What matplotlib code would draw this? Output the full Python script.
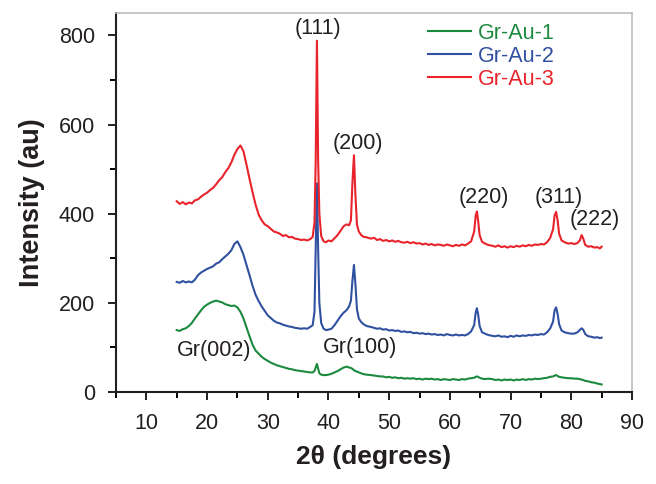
import matplotlib
matplotlib.use('Agg')
import matplotlib.pyplot as plt
from matplotlib.ticker import MultipleLocator

plt.rcParams['font.family'] = ['Liberation Sans', 'DejaVu Sans']

# 2-theta grid (degrees), shared by all three patterns
two_theta = [
    15.0, 15.5, 16.0, 16.5, 17.0, 17.5, 18.0, 18.5, 19.0, 19.5, 20.0, 20.5, 21.0, 21.5, 22.0,
    22.5, 23.0, 23.5, 24.0, 24.5, 25.0, 25.5, 26.0, 26.5, 27.0, 27.5, 28.0, 28.5, 29.0, 29.5,
    30.0, 30.5, 31.0, 31.5, 32.0, 32.5, 33.0, 33.5, 34.0, 34.5, 35.0, 35.5, 36.0, 36.5, 37.0,
    37.4, 37.7, 37.9, 38.1, 38.3, 38.5, 38.8, 39.2, 39.6, 40.0, 40.5, 41.0, 41.5, 42.0, 42.5,
    43.0, 43.4, 43.7, 43.95, 44.2, 44.45, 44.7, 45.0, 45.4, 45.8, 46.3,
    47.0, 47.5, 48.0, 48.5, 49.0, 49.5, 50.0, 50.5, 51.0, 51.5, 52.0, 52.5, 53.0, 53.5, 54.0,
    54.5, 55.0, 55.5, 56.0, 56.5, 57.0, 57.5, 58.0, 58.5, 59.0, 59.5, 60.0, 60.5, 61.0, 61.5,
    62.0, 62.5, 63.0, 63.5,
    64.0, 64.25, 64.45, 64.65, 64.9, 65.3, 65.8, 66.3,
    67.0, 67.5, 68.0, 68.5, 69.0, 69.5, 70.0, 70.5, 71.0, 71.5, 72.0, 72.5, 73.0, 73.5, 74.0,
    74.5, 75.0, 75.5, 76.0, 76.5,
    77.0, 77.25, 77.5, 77.75, 78.0, 78.4, 78.9, 79.5, 80.0, 80.5, 81.0, 81.4, 81.7, 81.95,
    82.3, 82.8, 83.3, 83.8, 84.3, 84.7, 85.0,
]

gr_au_3 = [
    428, 422, 426, 421, 425, 423, 430, 432, 438, 443, 447, 453, 458, 466, 475,
    482, 493, 502, 515, 532, 545, 553, 540, 510, 478, 448, 420, 398, 385, 376,
    372, 366, 360, 358, 355, 350, 352, 347, 348, 344, 343, 341, 342, 340, 343,
    348, 380, 520, 788, 520, 400, 350, 338, 336, 340, 338, 345, 352, 362, 372,
    376, 374, 385, 470, 531, 440, 375, 360, 352, 348, 347,
    344, 346, 341, 343, 339, 341, 338, 340, 337, 339, 336, 335, 337, 334, 336,
    333, 334, 331, 333, 330, 332, 329, 331, 330, 328, 331, 329, 327, 330, 328,
    331, 329, 333, 338,
    360, 395, 405, 385, 352, 337, 333, 330,
    328, 326, 329, 325, 327, 324, 327, 325, 328, 326, 329, 327, 330, 328, 331,
    330, 332, 331, 336, 345,
    365, 396, 404, 385, 355, 340, 336, 333, 334, 332, 334, 340, 352, 345,
    330, 326, 327, 324, 325, 322, 326,
]

gr_au_2 = [
    247, 245, 249, 246, 248, 246, 252, 262, 268, 272, 276, 279, 282, 288, 291,
    298, 304, 310, 318, 332, 338, 325, 308, 285, 262, 238, 218, 204, 192, 182,
    172, 166, 160, 156, 154, 151, 149, 147, 146, 144, 143, 142, 143, 142, 146,
    150, 180, 320, 468, 320, 200, 155, 142, 139, 140, 142, 150, 160, 170, 178,
    184, 192, 205, 250, 285, 240, 185, 165, 157, 152, 148,
    146, 144, 142, 143, 140, 141, 138, 139, 137, 138, 135, 136, 134, 135, 132,
    133, 131, 132, 130, 131, 129, 130, 128, 129, 127, 130, 128, 127, 129, 127,
    128, 127, 130, 136,
    150, 178, 188, 175, 148, 134, 131, 128,
    126, 125, 127, 124, 125, 123, 126, 124, 127, 125, 127, 126, 128, 127, 129,
    128, 130, 129, 134, 142,
    158, 183, 190, 175, 152, 138, 134, 132, 131, 131, 134, 139, 143, 140,
    130, 125, 124, 122, 123, 121, 122,
]

gr_au_1 = [
    139, 137, 141, 143, 148, 155, 165, 174, 183, 191, 196, 200, 203, 205, 203,
    201, 197, 195, 193, 194, 190, 180, 165, 145, 125, 106, 93, 86, 79, 74,
    70, 66, 63, 60, 58, 56, 54, 52, 51, 49, 48, 47, 46, 45, 44,
    44, 47, 55, 63, 52, 42, 39, 38, 38, 39, 41, 44, 47, 51, 55,
    57, 55, 54, 52, 49, 47, 46, 44, 42, 40, 39,
    38, 37, 36, 35, 35, 33, 34, 32, 33, 31, 32, 30, 31, 30, 31,
    29, 30, 28, 30, 29, 30, 28, 29, 27, 29, 28, 27, 29, 28, 27,
    29, 28, 30, 31,
    32, 34, 35, 34, 32, 30, 29, 30,
    29, 27, 28, 26, 28, 27, 28, 26, 28, 27, 29, 27, 29, 28, 30,
    29, 30, 31, 32, 34,
    35, 37, 38, 36, 34, 33, 32, 31, 31, 30, 30, 29, 28, 27,
    25, 24, 22, 21, 19, 18, 17,
]

series_labels = ['Gr-Au-1', 'Gr-Au-2', 'Gr-Au-3']
series_colors = ['#1b8a3e', '#3050a0', '#e8232b']

peak_labels = ['(111)', '(200)', '(220)', '(311)', '(222)', 'Gr(002)', 'Gr(100)']
peak_x = [38.3, 44.8, 65.6, 77.9, 83.8, 21.1, 45.2]
peak_y = [816, 558, 437, 437, 386, 94, 99]

fig = plt.figure(figsize=(6.56, 4.84), dpi=100)
ax = fig.add_axes([0.1768, 0.190, 0.7866, 0.783])

for ys, lab, col in zip([gr_au_1, gr_au_2, gr_au_3], series_labels, series_colors):
    ax.plot(two_theta, ys, color=col, lw=1.5, label=lab)

for txt, px, py in zip(peak_labels, peak_x, peak_y):
    ax.text(px, py, txt, ha='center', va='center', fontsize=15.5, color='#231f20')

ax.set_xlim(5, 90)
ax.set_ylim(0, 850)
ax.xaxis.set_major_locator(MultipleLocator(10))
ax.xaxis.set_minor_locator(MultipleLocator(5))
ax.yaxis.set_major_locator(MultipleLocator(200))
ax.yaxis.set_minor_locator(MultipleLocator(100))
ax.tick_params(which='major', direction='out', length=6, width=1.4, labelsize=15.5,
               colors='#231f20')
ax.tick_params(which='minor', direction='out', length=4, width=1.4)
ax.tick_params(axis='x', which='major', pad=9)
ax.tick_params(axis='y', which='major', pad=9)

for s in ['left', 'bottom']:
    ax.spines[s].set_linewidth(1.5)
    ax.spines[s].set_color('#231f20')
for s in ['top', 'right']:
    ax.spines[s].set_linewidth(1.2)
    ax.spines[s].set_color('#bdbdbd')

ax.set_xlabel('2θ (degrees)', fontsize=19, fontweight='bold', color='#231f20', labelpad=8)
ax.set_ylabel('Intensity (au)', fontsize=19.5, fontweight='bold', color='#231f20', labelpad=10)

ax.legend(loc='upper left', bbox_to_anchor=(0.605, 0.975), frameon=False, fontsize=15.5,
          labelcolor='linecolor', handlelength=2.0, handletextpad=0.3, labelspacing=0.1,
          borderpad=0, borderaxespad=0)

fig.savefig('out.png', dpi=100)
